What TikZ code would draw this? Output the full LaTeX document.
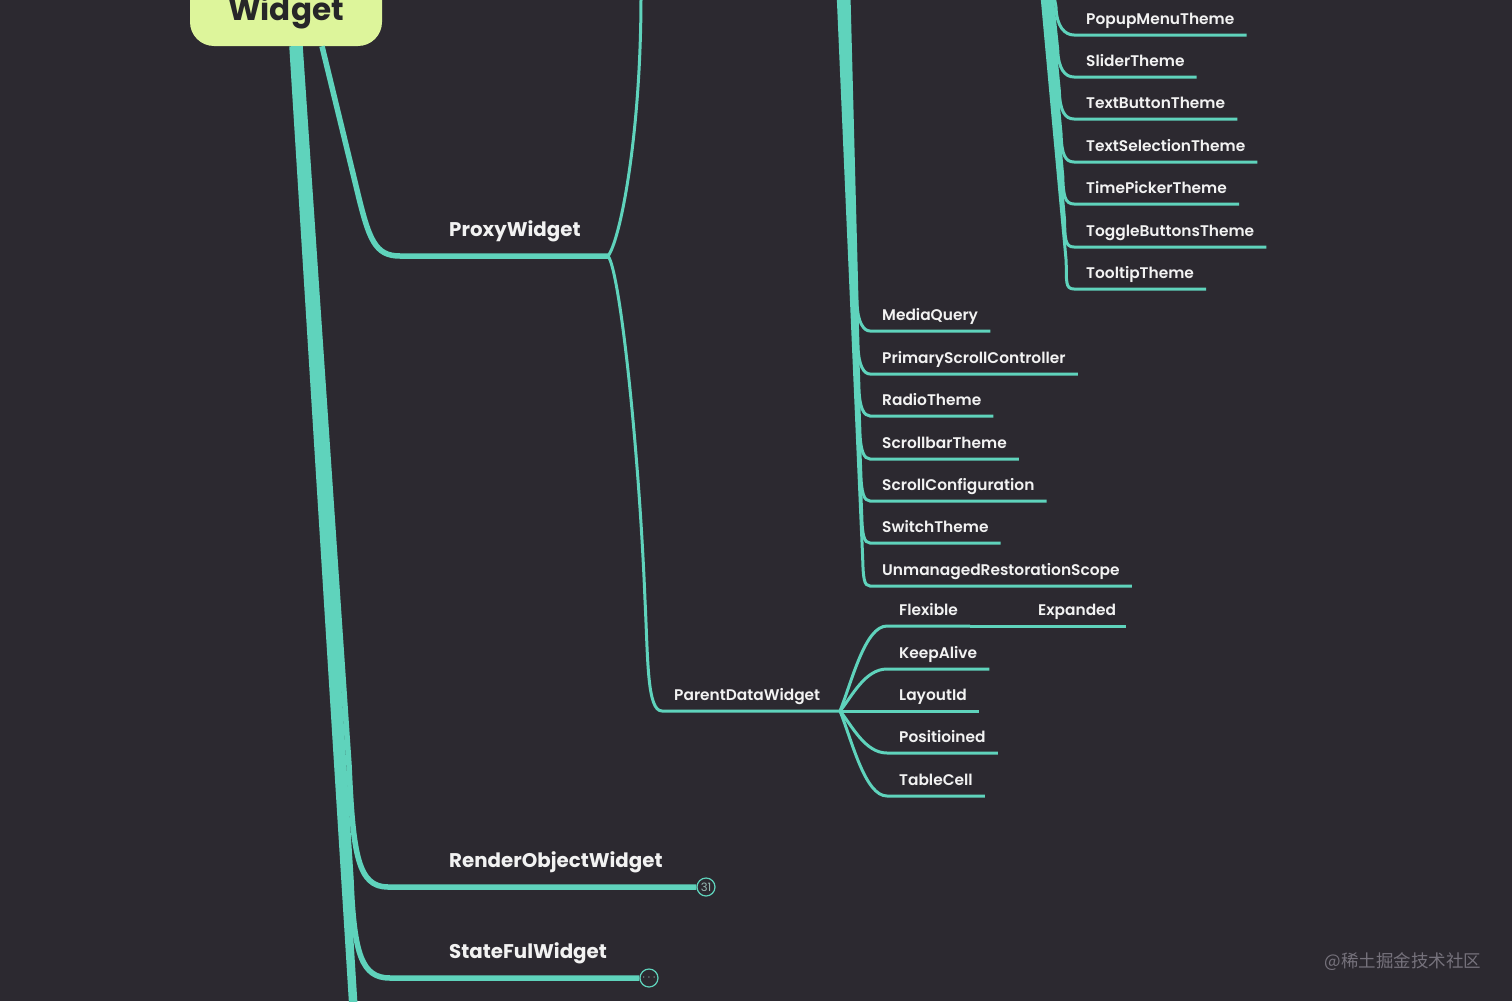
\documentclass[tikz,border=0pt]{standalone}
\usepackage{fontspec}
\setmainfont{Poppins}
\newfontfamily\leaffont{Poppins SemiBold}
\newfontfamily\cjkfont{Noto Sans CJK SC}
\usepackage{tikz}
\usetikzlibrary{positioning}
\usetikzlibrary{calc}
\definecolor{bgcol}{RGB}{44,41,48}
\definecolor{branchcol}{RGB}{95,211,188}
\definecolor{rootcol}{RGB}{221,245,155}
\definecolor{rootink}{RGB}{38,38,40}
\definecolor{labelcol}{RGB}{242,242,242}
\definecolor{badgecol}{RGB}{150,185,178}
\definecolor{creditcol}{RGB}{118,114,124}
\tikzstyle{root}=[rectangle,rounded corners=24pt,fill=rootcol,minimum width=192pt,minimum height=76pt,inner sep=0pt,text depth=0pt,text=rootink,font=\fontsize{31}{31}\selectfont\bfseries]
\tikzstyle{major}=[anchor=south west,inner xsep=0pt,inner ysep=19pt,text depth=0pt,text=labelcol,font=\fontsize{19.8}{20}\selectfont\bfseries]
\tikzstyle{leaf}=[anchor=south west,inner xsep=12pt,inner ysep=10pt,text depth=0pt,text=labelcol,font=\leaffont\fontsize{15.4}{16}\selectfont]
\tikzstyle{branch} = [draw=branchcol,line width=3pt]
\tikzstyle{trunk} = [draw=branchcol,line width=5.5pt]
\tikzstyle{badge}=[circle,draw=branchcol,line width=1.2pt,fill=bgcol,minimum size=18pt,inner sep=0pt,text=badgecol,font=\fontsize{11.5}{11.5}\selectfont]
\tikzset{wmark/.style={text=creditcol,font=\cjkfont\fontsize{17.5}{18}\selectfont}}

\begin{document}
\begin{tikzpicture}[x=1pt,y=-1pt]

  \fill[bgcol] (0,0) rectangle (1512,1001);
  \useasboundingbox (0,0) rectangle (1512,1001);

  \node[root] (widget) at (286,8) {Widget};

  % first level
  \foreach \name/\label/\y in {proxy/ProxyWidget/256, render/RenderObjectWidget/887, stateful/StateFulWidget/978}
          \node[major] (\name) at (449,\y) {\label};
  \node[badge] (rcount) at (706,887) {31};
  \node[badge] (scount) at (649,978) {$\cdots$};

  \coordinate (more1) at (352,1008);
  \coordinate (more2) at (355,1008);
  \foreach \dx/\dest in {6/more1, 9/more2}
         \path[trunk] ($(widget.south)+(\dx,0)$) -- (\dest);
  \path[trunk] ($(widget.south)+(14,0)$) -- (349,765) .. controls +(4,90) and +(-30,0) .. (388,887) -- (rcount.west);
  \path[trunk] ($(widget.south)+(11.5,0)$) -- (351,880) .. controls +(3,75) and +(-28,0) .. (390,978) -- (scount.west);

  \coordinate (proxyhub) at (608,256);
  \path[trunk] ($(widget.south)+(36,0)$) -- (357,190) .. controls +(12,50) and +(-25,0) .. (400,256) -- (proxyhub);

  % ProxyWidget children
  \coordinate (inhtop) at (641,-4);
  \path[branch] (proxyhub) .. controls +(12,-15) and +(0,140) .. (inhtop);

  \node[leaf] (pdw) at (662,711) {ParentDataWidget};
  \coordinate (pdwhub) at (840,711);
  \path[branch] (proxyhub) .. controls +(12,15) and +(-6,-150) .. (645,600) .. controls +(3,60) and +(-15,0) .. (pdw.south west) -- (pdwhub);

  \foreach \name/\label/\y in {flex/Flexible/626, keep/KeepAlive/669, lay/LayoutId/711, pos/Positioined/753, tab/TableCell/796}
  {
     \pgfmathsetmacro{\dy}{(\y-711)*0.35}
     \node[leaf] (\name) at (887,\y) {\label};
     \path[branch] (pdwhub) .. controls +(12,\dy) and +(-22,0) .. (\name.south west) -- (\name.south east);
  }
  \node[leaf,inner xsep=10pt] (expanded) at (1028,626) {Expanded};
  \path[branch] (flex.south east) -- (expanded.south east);

  % middle column
  \foreach \name/\label/\y [count=\i from 0] in {mq/MediaQuery/331, psc/PrimaryScrollController/374, radio/RadioTheme/416, sbar/ScrollbarTheme/459, sconf/ScrollConfiguration/501, switch/SwitchTheme/543, urs/UnmanagedRestorationScope/586}
  {
     \pgfmathsetmacro{\xt}{849-1.8*\i}
     \pgfmathsetmacro{\yp}{\y-28}
     \pgfmathsetmacro{\xp}{857+(\yp-300)*0.022}
     \coordinate (\name top) at (\xt,-4);
     \node[leaf] (\name) at (870,\y) {\label};
     \path[branch] (\name top) -- (\xp,\yp) .. controls +(0.5,20) and +(-6,0) .. (\name.south west) -- (\name.south east);
  }

  % right column
  \foreach \name/\label/\y [count=\i from 0] in {popup/PopupMenuTheme/35, slider/SliderTheme/77, tbutton/TextButtonTheme/119, tsel/TextSelectionTheme/162, tpick/TimePickerTheme/204, toggle/ToggleButtonsTheme/247, tip/TooltipTheme/289}
  {
     \pgfmathsetmacro{\xt}{1054-2*\i}
     \pgfmathsetmacro{\yp}{\y-28}
     \pgfmathsetmacro{\xp}{1056+(\yp-7)*0.04}
     \coordinate (\name top) at (\xt,-4);
     \node[leaf] (\name) at (1074,\y) {\label};
     \path[branch] (\name top) -- (\xp,\yp) .. controls +(0.5,20) and +(-9,0) .. (\name.south west) -- (\name.south east);
  }

  \node[wmark] (credit) at (1403,962) {@稀土掘金技术社区};

\end{tikzpicture}
\end{document}
